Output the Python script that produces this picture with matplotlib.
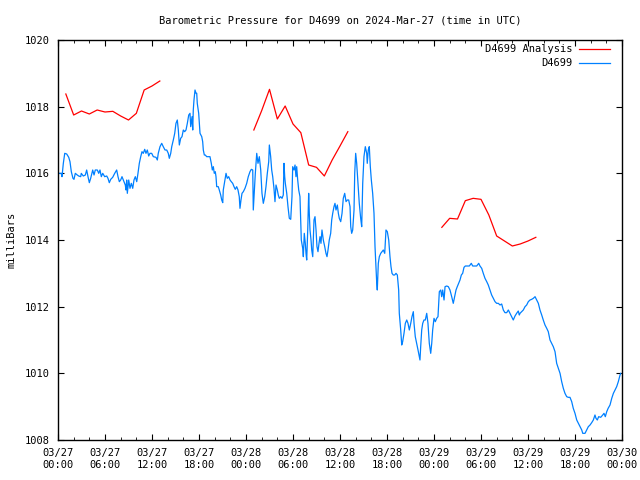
import numpy as np
import matplotlib
matplotlib.use('Agg')
import matplotlib.pyplot as plt
import matplotlib.dates as mdates

plt.rcParams['font.family'] = ['DejaVu Sans Mono']

# hours after 2024-03-27 00:00 UTC
obs_hours = [
    0.09, 0.42, 0.51, 0.68, 0.86, 1.11, 1.37, 1.53, 1.70, 1.91, 2.04, 2.21, 2.46, 2.64, 2.90, 2.97,
    3.23, 3.49, 3.66, 3.83, 4.00, 4.17, 4.43, 4.60, 4.76, 5.02, 5.20, 5.36, 5.53, 5.71, 5.96, 6.22,
    6.38, 6.55, 6.73, 6.98, 7.24, 7.49, 7.66, 7.83, 8.00, 8.17, 8.34, 8.59, 8.68, 8.77, 8.85, 9.03,
    9.19, 9.36, 9.54, 9.70, 9.87, 10.05, 10.21, 10.38, 10.56, 10.72, 10.89, 11.07, 11.23, 11.40,
    11.58, 11.74, 11.96, 12.17, 12.51, 12.68, 12.80, 13.02, 13.24, 13.44, 13.66, 13.88, 14.08,
    14.21, 14.39, 14.52, 14.72, 14.90, 15.06, 15.23, 15.36, 15.49, 15.66, 15.83, 16.00, 16.17,
    16.34, 16.51, 16.69, 16.85, 16.94, 17.11, 17.20, 17.27, 17.36, 17.49, 17.62, 17.71, 17.78,
    17.96, 18.04, 18.13, 18.35, 18.47, 18.55, 18.68, 18.80, 18.98, 19.19, 19.40, 19.57, 19.70,
    19.83, 19.95, 20.08, 20.17, 20.26, 20.46, 20.59, 20.77, 20.90, 21.03, 21.10, 21.28, 21.45,
    21.61, 21.79, 21.96, 22.12, 22.30, 22.47, 22.63, 22.81, 22.98, 23.14, 23.23, 23.36, 23.49,
    23.66, 23.87, 24.09, 24.29, 24.51, 24.68, 24.86, 24.93, 25.02, 25.19, 25.37, 25.53, 25.70,
    25.88, 26.04, 26.21, 26.39, 26.55, 26.72, 26.90, 26.98, 27.15, 27.28, 27.41, 27.57, 27.70,
    27.83, 28.00, 28.12, 28.25, 28.43, 28.60, 28.76, 28.85, 28.94, 29.02, 29.20, 29.36, 29.53,
    29.71, 29.87, 29.96, 30.13, 30.26, 30.38, 30.47, 30.60, 30.73, 30.89, 31.06, 31.24, 31.32,
    31.44, 31.57, 31.66, 31.75, 31.88, 32.00, 32.08, 32.17, 32.30, 32.39, 32.52, 32.59, 32.68,
    32.81, 32.94, 33.06, 33.19, 33.32, 33.45, 33.57, 33.70, 33.87, 34.05, 34.21, 34.34, 34.47,
    34.63, 34.81, 34.94, 35.07, 35.23, 35.36, 35.49, 35.66, 35.79, 35.91, 36.09, 36.26, 36.42,
    36.60, 36.77, 36.93, 37.11, 37.28, 37.37, 37.49, 37.62, 37.79, 37.88, 38.00, 38.13, 38.30,
    38.46, 38.64, 38.77, 38.90, 39.06, 39.23, 39.41, 39.48, 39.61, 39.74, 39.87, 40.00, 40.17,
    40.34, 40.47, 40.60, 40.69, 40.76, 40.89, 41.02, 41.20, 41.36, 41.53, 41.71, 41.87, 42.04,
    42.22, 42.38, 42.51, 42.64, 42.80, 42.98, 43.15, 43.32, 43.49, 43.57, 43.75, 43.88, 44.00,
    44.17, 44.34, 44.52, 44.68, 44.85, 45.03, 45.19, 45.36, 45.45, 45.61, 45.79, 45.96, 46.12,
    46.21, 46.30, 46.43, 46.56, 46.72, 46.89, 47.07, 47.23, 47.40, 47.58, 47.71, 47.83, 48.00,
    48.17, 48.34, 48.51, 48.68, 48.86, 48.98, 49.11, 49.28, 49.41, 49.62, 49.83, 50.04, 50.26,
    50.46, 50.64, 50.81, 50.97, 51.15, 51.32, 51.49, 51.66, 51.83, 52.00, 52.25, 52.51, 52.76,
    52.94, 53.19, 53.45, 53.71, 53.87, 54.09, 54.29, 54.51, 54.73, 54.93, 55.15, 55.36, 55.57,
    55.79, 56.00, 56.21, 56.43, 56.64, 56.85, 57.06, 57.28, 57.49, 57.70, 57.92, 58.12, 58.34,
    58.55, 58.76, 58.89, 58.98, 59.20, 59.40, 59.62, 59.83, 60.04, 60.26, 60.47, 60.68, 60.90,
    61.11, 61.32, 61.53, 61.75, 61.95, 62.17, 62.39, 62.59, 62.81, 63.02, 63.23, 63.45, 63.66,
    63.87, 64.09, 64.30, 64.51, 64.72, 64.94, 65.14, 65.36, 65.58, 65.78, 66.00, 66.22, 66.43,
    66.64, 66.86, 66.99, 67.28, 67.49, 67.70, 67.92, 68.13, 68.34, 68.55, 68.68, 68.85, 69.02,
    69.28, 69.54, 69.70, 69.87, 70.05, 70.23, 70.47, 70.69, 70.90, 71.11, 71.32, 71.53, 71.75,
    71.84,
]
obs_mbar = [
    1016.0, 1016.0, 1015.9, 1016.3, 1016.6, 1016.58, 1016.48, 1016.35, 1016.05, 1015.85, 1015.82,
    1016.0, 1015.95, 1015.92, 1015.9, 1016.0, 1015.92, 1015.95, 1016.1, 1015.9, 1015.72, 1015.85,
    1016.1, 1015.95, 1016.1, 1016.1, 1016.0, 1016.1, 1015.9, 1016.0, 1015.9, 1015.92, 1015.85,
    1015.72, 1015.82, 1015.88, 1016.0, 1016.1, 1015.9, 1015.75, 1015.8, 1015.9, 1015.8, 1015.65,
    1015.5, 1015.8, 1015.4, 1015.8, 1015.55, 1015.7, 1015.55, 1015.8, 1015.9, 1015.75, 1016.0,
    1016.3, 1016.5, 1016.65, 1016.6, 1016.72, 1016.6, 1016.7, 1016.52, 1016.6, 1016.6, 1016.5,
    1016.48, 1016.4, 1016.6, 1016.8, 1016.9, 1016.8, 1016.7, 1016.7, 1016.6, 1016.45, 1016.6,
    1016.8, 1017.0, 1017.2, 1017.5, 1017.6, 1017.3, 1016.85, 1017.05, 1017.1, 1017.3, 1017.25,
    1017.3, 1017.5, 1017.75, 1017.8, 1017.4, 1017.7, 1017.3, 1017.9, 1018.2, 1018.5, 1018.4,
    1018.4, 1018.1, 1017.8, 1017.5, 1017.2, 1017.1, 1016.95, 1016.7, 1016.55, 1016.55, 1016.5,
    1016.5, 1016.5, 1016.3, 1016.1, 1016.2, 1016.0, 1016.05, 1015.9, 1015.6, 1015.6, 1015.5,
    1015.35, 1015.2, 1015.12, 1015.5, 1015.75, 1016.0, 1015.85, 1015.9, 1015.8, 1015.75, 1015.7,
    1015.6, 1015.52, 1015.6, 1015.5, 1015.3, 1014.95, 1015.2, 1015.4, 1015.45, 1015.55, 1015.7,
    1015.9, 1016.05, 1016.12, 1016.1, 1014.9, 1015.3, 1016.0, 1016.6, 1016.3, 1016.5, 1016.1,
    1015.4, 1015.1, 1015.3, 1015.6, 1016.0, 1016.35, 1016.85, 1016.5, 1016.1, 1015.9, 1015.55,
    1015.15, 1015.65, 1015.5, 1015.35, 1015.25, 1015.3, 1015.25, 1015.35, 1016.3, 1015.9, 1015.7,
    1015.4, 1015.0, 1014.65, 1014.62, 1015.3, 1016.2, 1016.1, 1016.25, 1015.9, 1016.2, 1015.8,
    1015.5, 1015.3, 1014.0, 1013.75, 1013.5, 1014.2, 1013.9, 1013.6, 1013.4, 1014.3, 1015.4,
    1014.8, 1014.3, 1014.0, 1013.7, 1013.5, 1014.0, 1014.6, 1014.7, 1014.3, 1013.8, 1013.65,
    1013.9, 1014.1, 1013.9, 1014.3, 1014.0, 1013.8, 1013.6, 1013.5, 1013.7, 1014.0, 1014.2,
    1014.6, 1014.8, 1015.0, 1015.1, 1014.9, 1015.05, 1014.8, 1014.65, 1014.55, 1014.8, 1015.25,
    1015.4, 1015.15, 1015.2, 1015.2, 1015.0, 1014.4, 1014.2, 1014.3, 1014.9, 1016.0, 1016.6,
    1016.3, 1015.7, 1015.1, 1014.65, 1014.4, 1015.7, 1016.5, 1016.8, 1016.6, 1016.3, 1016.7,
    1016.8, 1016.2, 1015.8, 1015.4, 1014.8, 1013.8, 1013.15, 1012.7, 1012.5, 1013.3, 1013.5,
    1013.6, 1013.65, 1013.7, 1013.6, 1014.3, 1014.25, 1014.0, 1013.5, 1013.2, 1013.0, 1012.95,
    1012.95, 1013.0, 1012.95, 1012.5, 1011.8, 1011.3, 1010.85, 1010.95, 1011.2, 1011.5, 1011.6,
    1011.5, 1011.3, 1011.5, 1011.7, 1011.85, 1011.5, 1011.1, 1010.9, 1010.7, 1010.5, 1010.4,
    1010.8, 1011.3, 1011.5, 1011.6, 1011.6, 1011.8, 1011.5, 1010.9, 1010.6, 1010.9, 1011.3,
    1011.65, 1011.55, 1011.65, 1011.7, 1012.45, 1012.5, 1012.3, 1012.5, 1012.2, 1012.6, 1012.62,
    1012.6, 1012.5, 1012.3, 1012.1, 1012.3, 1012.5, 1012.6, 1012.7, 1012.8, 1012.95, 1013.0,
    1013.18, 1013.22, 1013.22, 1013.22, 1013.3, 1013.22, 1013.22, 1013.22, 1013.3, 1013.22,
    1013.15, 1013.0, 1012.85, 1012.75, 1012.65, 1012.5, 1012.35, 1012.25, 1012.15, 1012.1,
    1012.1, 1012.05, 1012.08, 1011.9, 1011.82, 1011.82, 1011.9, 1011.8, 1011.7, 1011.6, 1011.72,
    1011.8, 1011.87, 1011.75, 1011.8, 1011.85, 1011.9, 1012.0, 1012.05, 1012.15, 1012.2, 1012.22,
    1012.25, 1012.3, 1012.2, 1012.1, 1011.9, 1011.75, 1011.6, 1011.45, 1011.35, 1011.25, 1011.0,
    1010.9, 1010.8, 1010.65, 1010.3, 1010.15, 1010.0, 1009.75, 1009.55, 1009.4, 1009.3, 1009.28,
    1009.28, 1009.15, 1008.95, 1008.8, 1008.6, 1008.5, 1008.4, 1008.3, 1008.2, 1008.2, 1008.3,
    1008.4, 1008.45, 1008.52, 1008.6, 1008.75, 1008.65, 1008.6, 1008.7, 1008.68, 1008.75, 1008.8,
    1008.7, 1008.85, 1008.95, 1009.05, 1009.25, 1009.4, 1009.5, 1009.6, 1009.75, 1009.95, 1010.0,
]

# analysis runs (nan breaks the line between runs)
ana_hours = [1, 2, 3, 4, 5, 6, 7, 8, 9, 10, 11, 12, 13, 19,
             25, 26, 27, 28, 29, 30, 31, 32, 33, 34, 35, 36, 37, 43,
             49, 50, 51, 52, 53, 54, 55, 56, 57, 58, 59, 60, 61]
ana_mbar = [1018.38, 1017.75, 1017.87, 1017.78, 1017.9, 1017.84, 1017.86, 1017.72, 1017.6,
            1017.8, 1018.5, 1018.62, 1018.77, np.nan,
            1017.3, 1017.88, 1018.52, 1017.63, 1018.02, 1017.48, 1017.22, 1016.25, 1016.18,
            1015.92, 1016.4, 1016.82, 1017.25, np.nan,
            1014.38, 1014.65, 1014.63, 1015.18, 1015.25, 1015.22, 1014.75, 1014.12, 1013.97,
            1013.82, 1013.88, 1013.97, 1014.08]

start = np.datetime64('2024-03-27T00:00')
def to_time(hours):
    return start + (np.array(hours) * 3600).round().astype('timedelta64[s]')

fig = plt.figure(figsize=(6.4, 4.8), dpi=100)
ax = fig.add_axes([58/640, 40/480, 564/640, 400/480])

ax.plot(to_time(ana_hours), ana_mbar, color='#ff0000', lw=0.9, label='D4699 Analysis')
ax.plot(to_time(obs_hours), obs_mbar, color='#0080ff', lw=0.9, label='D4699')

ax.set_xlim(start, np.datetime64('2024-03-30T00:00'))
ax.set_ylim(1008, 1020)
ax.set_yticks(range(1008, 1021, 2))
ax.xaxis.set_major_locator(mdates.HourLocator(byhour=range(0, 24, 6)))
ax.xaxis.set_minor_locator(mdates.HourLocator(byhour=range(0, 24, 2)))
ax.xaxis.set_major_formatter(mdates.DateFormatter('%m/%d\n%H:%M'))

ax.tick_params(which='both', direction='in', top=True, right=True, labelsize=7.5)
ax.tick_params(which='major', length=4, pad=6)
ax.tick_params(which='minor', length=2.5)
for s in ax.spines.values():
    s.set_linewidth(1.0)

ax.set_ylabel('milliBars', fontsize=7.5, labelpad=6)
ax.set_title('Barometric Pressure for D4699 on 2024-Mar-27 (time in UTC)', fontsize=7.5, pad=12)

ax.legend(loc='upper right', bbox_to_anchor=(0.986, 1.0), frameon=False, markerfirst=False,
          fontsize=7.5, handlelength=3.0, handletextpad=0.6, labelspacing=0.4,
          borderaxespad=0.0)

plt.savefig('out.png', dpi=100)
